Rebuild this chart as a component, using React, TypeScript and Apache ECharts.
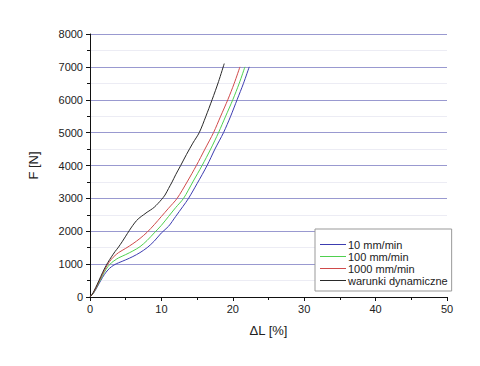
import React, { useEffect, useRef } from "react";
import * as echarts from "echarts";

const seriesNames = ["10 mm/min", "100 mm/min", "1000 mm/min", "warunki dynamiczne"];
const seriesColors = ["#3c3cb0", "#4fd04f", "#d04a4a", "#2a2a2a"];

const blue: [number, number][] = [
  [0, 0], [0.5, 120], [1, 300], [1.5, 500], [2, 680], [2.5, 820], [3, 920], [3.5, 990],
  [4, 1040], [5, 1130], [6, 1230], [7, 1350], [8, 1500], [9, 1700], [10, 1950],
  [11, 2150], [12, 2450], [13, 2750], [13.8, 3000], [15, 3450], [16.4, 4000],
  [17.5, 4500], [18.7, 5000], [19.7, 5500], [20.6, 6000], [21.5, 6500], [22.3, 7000],
];
const green: [number, number][] = [
  [0, 0], [0.5, 130], [1, 330], [1.5, 540], [2, 750], [2.5, 920], [3, 1040], [3.5, 1120],
  [4, 1190], [5, 1290], [6, 1400], [7, 1530], [8, 1720], [9, 1950], [10, 2180],
  [11, 2450], [12, 2720], [13.1, 3000], [14.4, 3500], [15.7, 4000], [16.9, 4500],
  [18, 5000], [19, 5500], [20, 6000], [20.9, 6500], [21.7, 7000],
];
const red: [number, number][] = [
  [0, 0], [0.5, 140], [1, 350], [1.5, 580], [2, 800], [2.5, 1000], [3, 1150], [3.5, 1260],
  [4, 1350], [5, 1480], [6, 1620], [7, 1780], [8, 1970], [9, 2200], [10, 2450],
  [11, 2700], [12.2, 3000], [13.6, 3500], [14.9, 4000], [16.1, 4500], [17.3, 5000],
  [18.3, 5500], [19.3, 6000], [20.2, 6500], [21, 7000],
];
const black: [number, number][] = [
  [0, 0], [0.3, 80], [0.6, 200], [1, 380], [1.5, 620], [2, 850], [2.5, 1050], [3, 1220],
  [3.5, 1380], [4, 1520], [4.5, 1680], [5, 1850], [5.5, 2020], [6, 2180], [6.5, 2320],
  [7, 2420], [7.5, 2500], [8, 2580], [8.5, 2650], [9, 2730], [9.5, 2840], [10, 2960],
  [10.5, 3100], [11, 3300], [11.5, 3500], [12, 3720], [12.7, 4000], [13.5, 4330],
  [14.4, 4680], [15.3, 5000], [16.2, 5480], [17.1, 6000], [18, 6550], [18.8, 7100],
];
const seriesData = [blue, green, red, black];

const xMin = 0, xMax = 50, xStep = 10;
const yMin = 0, yMax = 8000, yStep = 1000;

export default function App() {
  const ref = useRef<HTMLDivElement>(null);
  useEffect(() => {
    document.body.style.margin = "0";
    const chart = echarts.init(ref.current!, null, { renderer: "svg" });
    const font = "Liberation Sans, Arial, sans-serif";
    chart.setOption({
      animation: false,
      backgroundColor: "#ffffff",
      textStyle: { fontFamily: font },
      grid: { left: 90, right: 33, top: 34, bottom: 69 },
      xAxis: {
        type: "value", min: xMin, max: xMax, interval: xStep,
        name: "ΔL [%]", nameLocation: "middle", nameGap: 27,
        nameTextStyle: { fontSize: 13, color: "#222", fontFamily: font },
        axisLine: { show: true, lineStyle: { color: "#111", width: 1 } },
        axisTick: { show: true, length: 4, lineStyle: { color: "#111" } },
        minorTick: { show: true, splitNumber: 2, length: 3, lineStyle: { color: "#111" } },
        axisLabel: { fontSize: 11, color: "#222", margin: 6, fontFamily: font, formatter: (v: number) => String(v) },
        splitLine: { show: false },
      },
      yAxis: {
        type: "value", min: yMin, max: yMax, interval: yStep,
        name: "F [N]", nameLocation: "middle", nameGap: 50, nameRotate: 90,
        nameTextStyle: { fontSize: 13, color: "#222", fontFamily: font },
        axisLine: { show: true, lineStyle: { color: "#111", width: 1 } },
        axisTick: { show: true, length: 4, lineStyle: { color: "#111" } },
        minorTick: { show: true, splitNumber: 2, length: 3, lineStyle: { color: "#111" } },
        axisLabel: { fontSize: 11, color: "#222", margin: 7, fontFamily: font, formatter: (v: number) => String(v) },
        splitLine: { show: true, lineStyle: { color: "#9999d0", width: 1 } },
        minorSplitLine: { show: true, lineStyle: { color: "#ececf4", width: 1 } },
      },
      legend: {
        show: true,
        orient: "vertical",
        left: 315, top: 229,
        width: 132,
        padding: [10, 4, 5, 5],
        itemGap: 1,
        itemWidth: 26, itemHeight: 12,
        icon: "path://M0,0H26V1H0Z",
        backgroundColor: "#ffffff",
        borderColor: "#999",
        borderWidth: 1,
        textStyle: { fontSize: 11, color: "#222", fontFamily: font, padding: [0, 0, 0, -3] },
        data: seriesNames.map((n, i) => ({ name: n, itemStyle: { color: seriesColors[i] } })),
      },
      series: seriesData.map((d, i) => ({
        name: seriesNames[i],
        type: "line",
        data: d,
        smooth: 0.3,
        symbol: "none",
        lineStyle: { color: seriesColors[i], width: 1 },
        itemStyle: { color: seriesColors[i] },
        z: 3,
      })),
    });
    return () => chart.dispose();
  }, []);
  return <div ref={ref} style={{ width: 480, height: 366 }} />;
}
